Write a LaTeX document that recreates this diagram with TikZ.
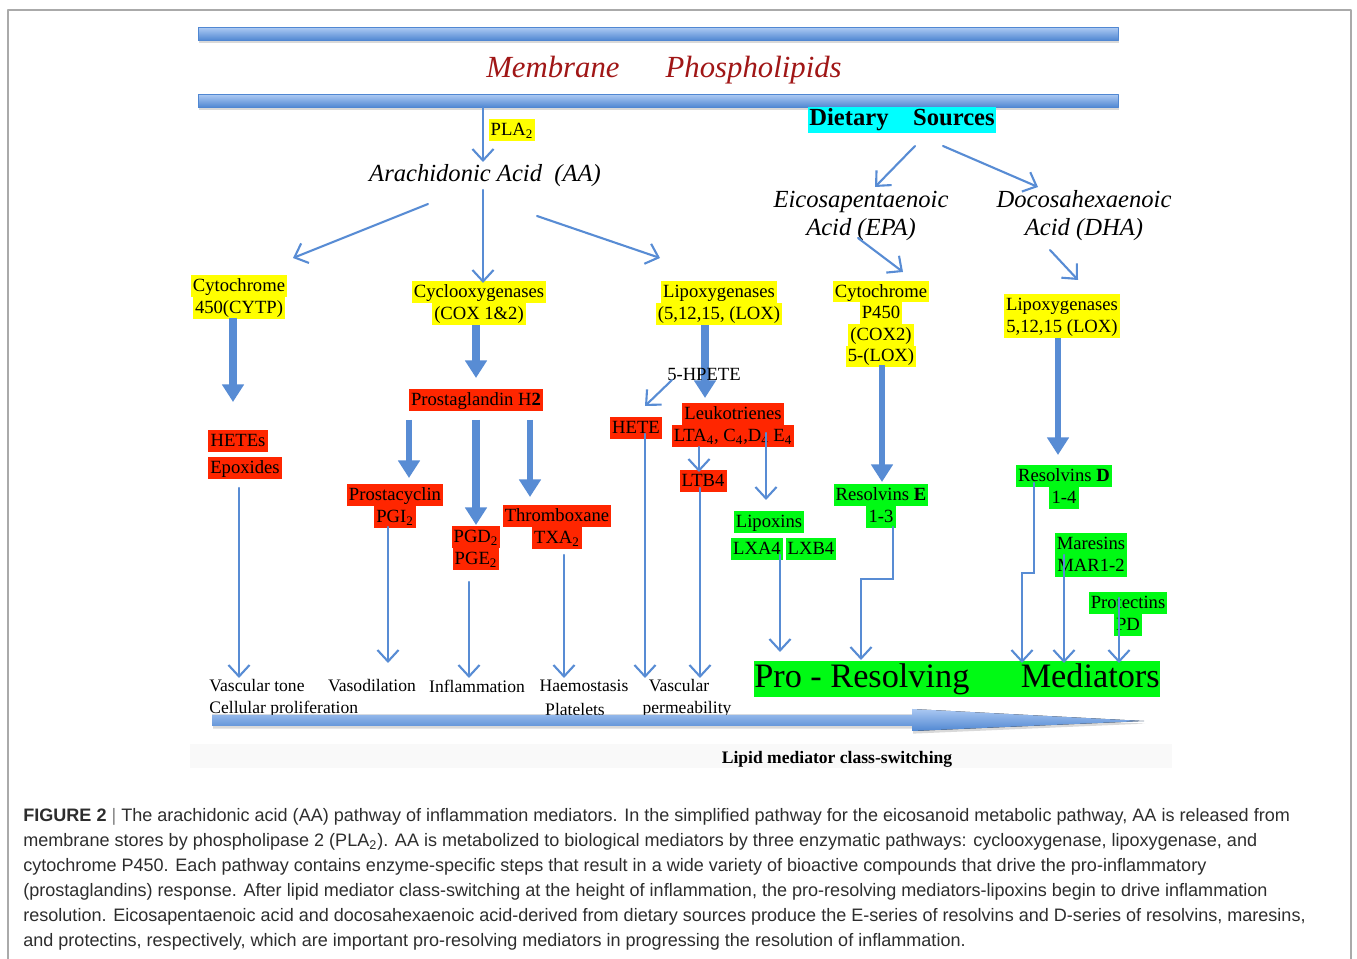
\documentclass[tikz,border=0pt]{standalone}
\usepackage{fontspec}
\setmainfont{Liberation Serif}
\newfontfamily\capfont{Liberation Sans}
\usetikzlibrary{arrows.meta,calc,shadows}
\definecolor{hlyellow}{RGB}{255,255,0}
\definecolor{hlred}{RGB}{255,38,0}
\definecolor{hlgreen}{RGB}{0,250,20}
\definecolor{hlcyan}{RGB}{0,255,255}
\definecolor{arrowblue}{RGB}{88,140,212}
\definecolor{barlight}{RGB}{170,200,242}
\definecolor{bardark}{RGB}{80,135,210}
\definecolor{memred}{RGB}{160,22,22}
\definecolor{capgray}{RGB}{45,45,45}
\definecolor{framegray}{RGB}{170,170,170}
\setlength{\fboxsep}{0pt}
\newcommand{\hlbox}[2]{\colorbox{#1}{\kern1.2pt\rule[-3pt]{0pt}{12.3pt}#2\kern1.2pt}}
\newcommand{\hly}[1]{\hlbox{hlyellow}{#1}}
\newcommand{\hlr}[1]{\hlbox{hlred}{#1}}
\newcommand{\hlg}[1]{\hlbox{hlgreen}{#1}}
\begin{document}
\begin{tikzpicture}[x=0.02cm, y=-0.02cm, line join=round, line cap=round,
	lbl/.style={align=center, inner sep=0pt, font=\fontsize{10.6}{12.3}\selectfont},
	outc/.style={inner sep=0pt, font=\fontsize{10}{12}\selectfont},
	thinarrow/.style={draw=arrowblue, line width=1.2pt, -{Straight Barb[length=6.5pt,width=12pt]}},
	blockarrow/.style={draw=arrowblue, line width=4.5pt, line cap=butt, -{Triangle[length=10pt,width=12pt]}},
	membar/.style={top color=barlight, bottom color=bardark, draw=bardark, line width=0.3pt, minimum width=18.4cm, minimum height=0.25cm, inner sep=0pt, drop shadow={opacity=0.3, shadow xshift=0.6pt, shadow yshift=-1.5pt}},
	captxt/.style={anchor=west, inner sep=0pt, text=capgray, font=\capfont\fontsize{10.27}{12}\selectfont}]
	\useasboundingbox (0,0) rectangle (1357,959);
	\draw[framegray, line width=0.6pt] (8,959) |- (1351,10) -- (1351,959);
	% membrane
	\node[membar] (bar1) at (658,34) {};
	\node[membar] (bar2) at (658,101) {};
	\node[font=\fontsize{17.5}{20}\selectfont\itshape, text=memred] (memb) at (664,70) {Membrane\hspace{1.5em}Phospholipids};
	\node[lbl] (pla) at (512,130) {\hly{PLA\textsubscript{2}}};
	\node[font=\fontsize{14}{16}\selectfont\itshape] (aa) at (485,176) {Arachidonic Acid\ \ (AA)};
	\node[fill=hlcyan, inner sep=1pt, font=\fontsize{14}{16}\selectfont\bfseries] (diet) at (902,120) {Dietary\quad Sources};
	\node[align=center, font=\fontsize{14}{16}\selectfont\itshape] (epa) at (861,216) {Eicosapentaenoic\\Acid (EPA)};
	\node[align=center, font=\fontsize{14}{16}\selectfont\itshape] (dha) at (1084,216) {Docosahexaenoic\\Acid (DHA)};
	% enzymes
	\node[lbl] (cyt) at (239,297) {\hly{Cytochrome}\\\hly{450(CYTP)}};
	\node[lbl] (cox) at (479,303) {\hly{Cyclooxygenases}\\\hly{(COX 1\&2)}};
	\node[lbl] (lox) at (719,303) {\hly{Lipoxygenases}\\\hly{(5,12,15, (LOX)}};
	\node[lbl] (cypepa) at (881,324) {\hly{Cytochrome}\\\hly{P450}\\\hly{(COX2)}\\\hly{5-(LOX)}};
	\node[lbl] (loxdha) at (1062,316) {\hly{Lipoxygenases}\\\hly{5,12,15 (LOX)}};
	% products
	\node[lbl] (pgh) at (476,400) {\hlr{Prostaglandin H\textbf{2}}};
	\node[lbl] (hetes) at (238,441) {\hlr{HETEs}};
	\node[lbl] (epox) at (245,468) {\hlr{Epoxides}};
	\node[lbl] (hete) at (636,428) {\hlr{HETE}};
	\node[lbl] (leuko) at (733,425) {\hlr{Leukotrienes}\\\hlr{LTA\textsubscript{4}, C\textsubscript{4},D\textsubscript{4} E\textsubscript{4}}};
	\node[lbl] (ltb) at (703,481) {\hlr{LTB4}};
	\node[lbl] (pgi) at (395,506) {\hlr{Prostacyclin}\\\hlr{PGI\textsubscript{2}}};
	\node[lbl] (pgd) at (476,548) {\hlr{PGD\textsubscript{2}}\\\hlr{PGE\textsubscript{2}}};
	\node[lbl] (txa) at (557,527) {\hlr{Thromboxane}\\\hlr{TXA\textsubscript{2}}};
	\node[lbl] (lipox) at (769,522) {\hlg{Lipoxins}};
	\node[lbl] (lxa) at (757,549) {\hlg{LXA4}};
	\node[lbl] (lxb) at (811,549) {\hlg{LXB4}};
	\node[lbl] (rve) at (881,506) {\hlg{Resolvins \textbf{E}}\\\hlg{1-3}};
	\node[lbl] (rvd) at (1064,487) {\hlg{Resolvins \textbf{D}}\\\hlg{1-4}};
	\node[lbl] (mar) at (1091,555) {\hlg{Maresins}\\\hlg{MAR1-2}};
	\node[lbl] (prot) at (1128,614) {\hlg{Protectins}\\\hlg{PD}};
	\node[fill=hlgreen, inner sep=0pt, minimum width=8.14cm, minimum height=0.74cm, font=\fontsize{19.5}{20}\selectfont] (pro) at (957,679) {Pro - Resolving\hspace{1.5em}Mediators};
	% outcomes
	\node[outc] (vt) at (257,686) {Vascular tone};
	\node[outc, anchor=west] (cp) at (209,709) {Cellular proliferation};
	\node[outc] (vd) at (372,686) {Vasodilation};
	\node[outc] (inf) at (477,686) {Inflammation};
	\node[outc] (hae) at (584,686) {Haemostasis};
	\node[outc] (plt) at (575,709) {Platelets};
	\node[outc] (vas) at (679,686) {Vascular};
	\node[outc] (perm) at (687,709) {permeability};
	% block arrows
	\draw[blockarrow] ($(cyt)+(-6,21)$) -- ($(hetes)+(-5,-39)$);
	\draw[blockarrow] ($(cox)+(-3,22)$) -- ($(pgh)+(0,-22)$);
	\draw[blockarrow] ($(lox)+(-14,22)$) -- ($(leuko)+(-28,-27)$);
	\draw[blockarrow, line width=3.5pt] ($(cypepa)+(1,41)$) -- ($(rve)+(1,-24)$);
	\draw[blockarrow, line width=3.5pt] ($(loxdha)+(-4,22)$) -- ($(rvd)+(-6,-32)$);
	\draw[blockarrow, line width=3.5pt] ($(pgh)+(-67,20)$) -- ($(pgi)+(14,-28)$);
	\draw[blockarrow, line width=5pt] ($(pgh)+(0,20)$) -- ($(pgd)+(0,-23)$);
	\draw[blockarrow, line width=3.5pt] ($(pgh)+(54,20)$) -- ($(txa)+(-27,-30)$);
	\node[lbl] (hpete) at (704,374) {5-HPETE};
	% thin arrows
	\draw[thinarrow] ($(bar2)+(-175,6)$) -- ($(aa)+(-2,-14)$);
	\draw[thinarrow] ($(diet)+(13,26)$) -- ($(epa)+(14,-29)$);
	\draw[thinarrow] ($(diet)+(41,26)$) -- ($(dha)+(-46,-29)$);
	\draw[thinarrow] ($(aa)+(-57,28)$) -- ($(cyt)+(54,-39)$);
	\draw[thinarrow] ($(aa)+(-2,14)$) -- ($(cox)+(4,-20)$);
	\draw[thinarrow] ($(aa)+(52,40)$) -- ($(lox)+(-59,-45)$);
	\draw[thinarrow] ($(epa)+(-3,22)$) -- ($(cypepa)+(22,-52)$);
	\draw[thinarrow] ($(dha)+(-34,34)$) -- ($(loxdha)+(16,-36)$);
	\draw[thinarrow] ($(hpete)+(-32,6)$) -- ($(hete)+(9,-22)$);
	\draw[thinarrow] ($(leuko)+(-34,22)$) -- ($(ltb)+(-4,-9)$);
	\draw[thinarrow] ($(leuko)+(33,8)$) -- ($(lipox)+(-3,-22)$);
	\draw[thinarrow] ($(epox)+(-6,20)$) -- ($(vt)+(-18,-8)$);
	\draw[thinarrow] ($(pgi)+(-7,21)$) -- ($(vd)+(16,-23)$);
	\draw[thinarrow] ($(pgd)+(-7,34)$) -- ($(inf)+(-8,-8)$);
	\draw[thinarrow] ($(txa)+(7,28)$) -- ($(hae)+(-20,-8)$);
	\draw[thinarrow] ($(hete)+(9,6)$) -- ($(vas)+(-34,-8)$);
	\draw[thinarrow] ($(ltb)+(-3,7)$) -- ($(vas)+(21,-8)$);
	\draw[thinarrow] ($(lxa)+(23,6)$) -- ($(pro)+(-177,-27)$);
	\draw[thinarrow, line join=miter] ($(rve)+(12,21)$) -- ++(0,52) -| ($(pro)+(-96,-19)$);
	\draw[thinarrow, line join=miter] ($(rvd)+(-30,-4)$) -- ++(0,90) -| ($(pro)+(65,-16)$);
	\draw[thinarrow] ($(mar)+(-27,0)$) -- ($(pro)+(107,-16)$);
	\draw[thinarrow] ($(prot)+(-9,-16)$) -- ($(pro)+(162,-16)$);
	% class-switching
	\fill[top color=barlight, bottom color=bardark, drop shadow={opacity=0.3, shadow xshift=0.6pt, shadow yshift=-1.5pt}]
		(212,715) -- (912,715) -- (912,709) -- (1144,721) -- (912,731) -- (912,726) -- (212,726) -- cycle;
	\fill[gray!5] (190,744) rectangle (1172,768);
	\node[font=\fontsize{10}{12}\selectfont\bfseries] (lipid) at (837,759) {Lipid mediator class-switching};
	% caption
	\foreach \txt [count=\i] in {
		{\textbf{FIGURE 2} {\color{gray}|} The arachidonic acid (AA) pathway of inflammation mediators. In the simplified pathway for the eicosanoid metabolic pathway, AA is released from},
		{membrane stores by phospholipase 2 (PLA\textsubscript{2}). AA is metabolized to biological mediators by three enzymatic pathways: cyclooxygenase, lipoxygenase, and},
		{cytochrome P450. Each pathway contains enzyme-specific steps that result in a wide variety of bioactive compounds that drive the pro-inflammatory},
		{(prostaglandins) response. After lipid mediator class-switching at the height of inflammation, the pro-resolving mediators-lipoxins begin to drive inflammation},
		{resolution. Eicosapentaenoic acid and docosahexaenoic acid-derived from dietary sources produce the E-series of resolvins and D-series of resolvins, maresins,},
		{and protectins, respectively, which are important pro-resolving mediators in progressing the resolution of inflammation.}}
		\node[captxt] (cap\i) at (23,792+25*\i) {\txt};
\end{tikzpicture}
\end{document}
